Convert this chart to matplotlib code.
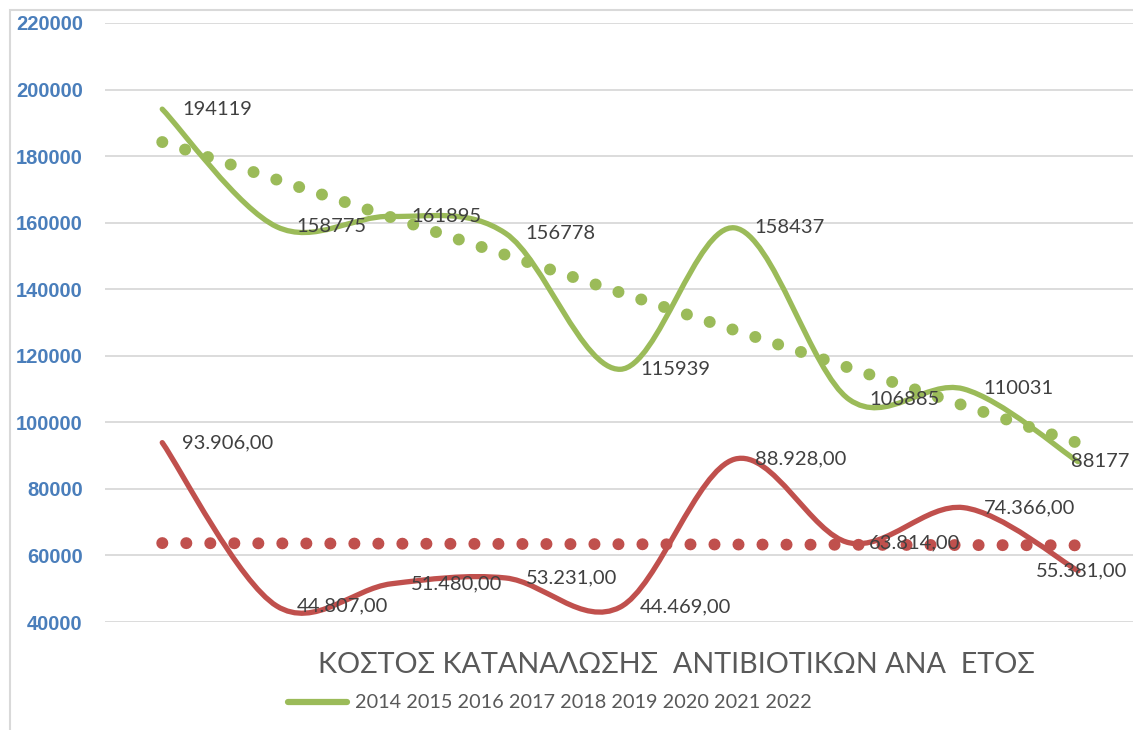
import numpy as np
import matplotlib
matplotlib.use('Agg')
import matplotlib.pyplot as plt
from matplotlib.path import Path
from matplotlib.patches import PathPatch, Rectangle
from matplotlib.lines import Line2D

plt.rcParams['font.family'] = ['Lato', 'Noto Sans', 'DejaVu Sans']

years = ['2014', '2015', '2016', '2017', '2018', '2019', '2020', '2021', '2022']
cost_a = [194119, 158775, 161895, 156778, 115939, 158437, 106885, 110031, 88177]
cost_b = [93906, 44807, 51480, 53231, 44469, 88928, 63814, 74366, 55381]
y_ticks = [40000, 60000, 80000, 100000, 120000, 140000, 160000, 180000, 200000, 220000]
title = 'ΚΟΣΤΟΣ ΚΑΤΑΝΑΛΩΣΗΣ  ΑΝΤΙΒΙΟΤΙΚΩΝ ΑΝΑ  ΕΤΟΣ'

GREEN = '#9bbb59'
RED = '#c0504d'


def smooth_path(xs, ys):
    # bezier segments like excel's "smoothed line"
    pts = np.column_stack([xs, ys]).astype(float)
    n = len(pts)
    verts = [pts[0]]
    codes = [Path.MOVETO]
    for i in range(n - 1):
        p0 = pts[max(i - 1, 0)]
        p1 = pts[i]
        p2 = pts[i + 1]
        p3 = pts[min(i + 2, n - 1)]
        c1 = p1 + (p2 - p0) / 6.0
        c2 = p2 - (p3 - p1) / 6.0
        verts += [c1, c2, p2]
        codes += [Path.CURVE4] * 3
    return Path(verts, codes)


def greek_fmt(v):
    return '{:,.2f}'.format(v).replace(',', 'X').replace('.', ',').replace('X', '.')


fig = plt.figure(figsize=(11.33, 7.3), dpi=100)
ax = fig.add_axes([105 / 1133, 1 - 622 / 730, 1 - 105 / 1133, (622 - 23) / 730])

x = np.arange(len(years))
ax.set_xlim(-0.5, 8.48)
ax.set_ylim(40000, 220000)

# trend lines (linear fit, dotted)
for vals, col in [(cost_a, GREEN), (cost_b, RED)]:
    k, b = np.polyfit(x, vals, 1)
    ax.plot(x, k * x + b, color=col, lw=8.6, linestyle=(0, (0.01, 2.0)),
            dash_capstyle='round', zorder=3)

for vals, col in [(cost_a, GREEN), (cost_b, RED)]:
    ax.add_patch(PathPatch(smooth_path(x, vals), facecolor='none', edgecolor=col,
                           lw=3.8, capstyle='round', zorder=4))

# data labels
for i, v in enumerate(cost_a):
    dx = 20 if i < len(cost_a) - 1 else -7
    ax.annotate(str(v), (x[i], v), xytext=(dx, 0), textcoords='offset pixels',
                ha='left', va='center', fontsize=14.5, color='#404040', zorder=5)
for i, v in enumerate(cost_b):
    dx = 20 if i < len(cost_b) - 1 else -42
    ax.annotate(greek_fmt(v), (x[i], v), xytext=(dx, 0), textcoords='offset pixels',
                ha='left', va='center', fontsize=14.5, color='#404040', zorder=5)

ax.set_yticks(y_ticks)
ax.set_yticklabels([str(t) for t in y_ticks], fontsize=14.5, fontweight='bold',
                   color='#4a7ebb', family='Liberation Sans')
ax.set_xticks([])
ax.tick_params(axis='y', length=0, pad=16)
ax.grid(axis='y', color='#d9d9d9', lw=1.3)
ax.set_axisbelow(True)
for s in ax.spines.values():
    s.set_visible(False)

fig.text(676 / 1133, 1 - 665 / 730, title, ha='center', va='center', fontsize=20.7, color='#595959')

handle = Line2D([], [], color=GREEN, lw=4.5, solid_capstyle='round')
fig.legend([handle], [' '.join(years)], loc='center', bbox_to_anchor=(550 / 1133, 1 - 703 / 730),
           frameon=False, fontsize=14.3, labelcolor='#595959', handlelength=3.0, handletextpad=0.4)

fig.patches.append(Rectangle((10 / 1133, -0.1), 1.2, 1 - 10 / 730 + 0.1, transform=fig.transFigure,
                             facecolor='none', edgecolor='#d9d9d9', lw=1.5))

fig.savefig('out.png', dpi=100)
